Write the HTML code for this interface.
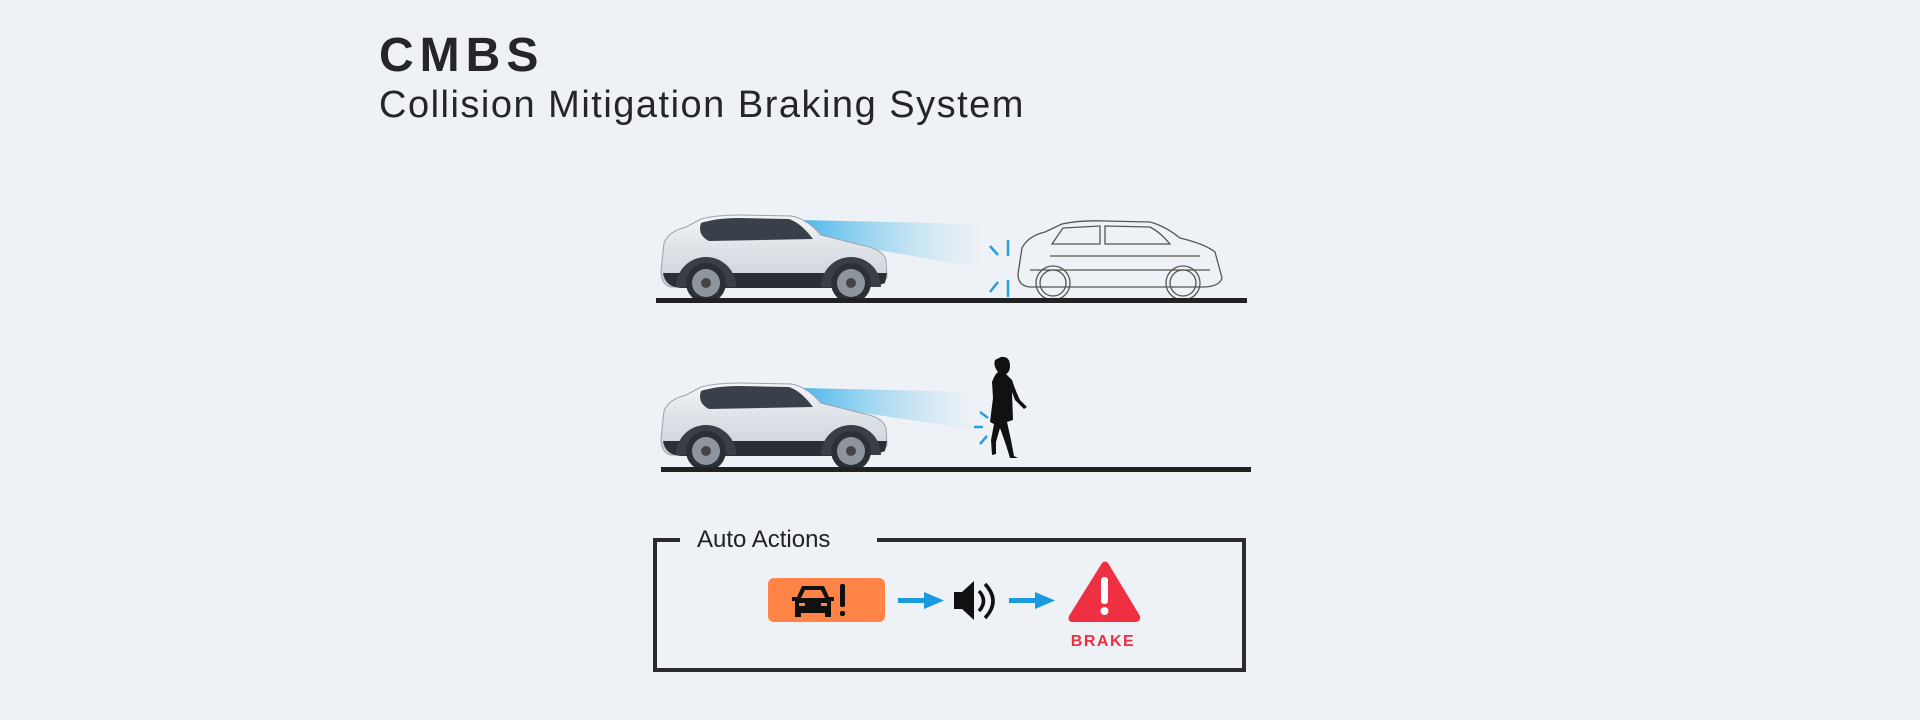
<!DOCTYPE html>
<html><head><meta charset="utf-8"><style>
html,body{margin:0;padding:0;background:#eef1f5;}
body{width:1920px;height:720px;position:relative;overflow:hidden;font-family:"Liberation Sans",sans-serif;color:#222;}
.t1{position:absolute;left:379px;top:28px;font-size:48px;font-weight:bold;letter-spacing:6px;color:#26262a;}
.t2{position:absolute;left:379px;top:84px;font-size:38px;letter-spacing:1.5px;color:#26262a;}
svg{position:absolute;left:0;top:0;}
</style></head><body>
<div class="t1">CMBS</div>
<div class="t2">Collision Mitigation Braking System</div>
<svg width="1920" height="720" viewBox="0 0 1920 720">
<defs>
<linearGradient id="beam" x1="0" x2="1" y1="0" y2="0">
<stop offset="0" stop-color="#3fb3ea" stop-opacity="0.95"/>
<stop offset="1" stop-color="#9fd8f3" stop-opacity="0"/>
</linearGradient>
<linearGradient id="body" x1="0" x2="0" y1="0" y2="1">
<stop offset="0" stop-color="#f2f4f7"/><stop offset="1" stop-color="#c9d0d8"/>
</linearGradient>
<g id="car">
<path d="M0,55 L3,28 Q8,16 25,12 L40,4 Q55,0 80,0 L130,1 Q145,3 160,20 Q180,25 200,30 Q222,34 225,45 L226,62 Q224,70 200,72 L10,72 Q0,70 0,55Z" fill="url(#body)" stroke="#9aa3ad" stroke-width="1"/>
<path d="M40,8 Q55,3 78,3 L128,4 Q140,8 152,24 L48,26 Q36,20 40,8Z" fill="#3a4049"/>
<path d="M2,58 L226,58 L224,68 Q210,74 180,73 L20,73 Q4,72 2,58Z" fill="#2a2e35"/>
<path d="M15,72 A30,30 0 0 1 75,72Z M160,72 A30,30 0 0 1 220,72Z" fill="#3a3f47"/>
<circle cx="45" cy="68" r="20" fill="#2b2f36"/><circle cx="45" cy="68" r="14" fill="#8e959e"/><circle cx="45" cy="68" r="5" fill="#444"/>
<circle cx="190" cy="68" r="20" fill="#2b2f36"/><circle cx="190" cy="68" r="14" fill="#8e959e"/><circle cx="190" cy="68" r="5" fill="#444"/>
</g>
</defs>
<polygon points="800,220 980,224 980,268 800,236" fill="url(#beam)"/>
<use href="#car" x="661" y="215"/>
<g stroke="#2a9fe0" stroke-width="2.5">
<line x1="1008" y1="240" x2="1008" y2="256"/><line x1="990" y1="246" x2="998" y2="255"/>
<line x1="990" y1="292" x2="998" y2="282"/><line x1="1008" y1="280" x2="1008" y2="297"/>
</g>
<g fill="none" stroke="#555" stroke-width="1.3">
<path d="M1018,274 L1022,248 Q1028,236 1045,232 L1062,224 Q1080,220 1105,221 L1150,222 Q1165,226 1180,238 Q1205,244 1215,252 L1222,278 Q1220,286 1205,287 L1030,287 Q1018,286 1018,274Z"/>
<path d="M1063,228 L1100,226 L1100,244 L1052,244Z M1105,226 L1150,227 Q1160,232 1170,244 L1105,244Z"/>
<circle cx="1053" cy="283" r="17"/><circle cx="1053" cy="283" r="13"/>
<circle cx="1183" cy="283" r="17"/><circle cx="1183" cy="283" r="13"/>
<line x1="1030" y1="270" x2="1210" y2="270"/>
<line x1="1050" y1="256" x2="1200" y2="256"/>
</g>
<rect x="656" y="298" width="591" height="5" fill="#222"/>
<polygon points="800,388 975,392 975,430 800,403" fill="url(#beam)"/>
<use href="#car" x="661" y="383"/>
<g stroke="#2a9fe0" stroke-width="2.5">
<line x1="980" y1="412" x2="988" y2="418"/><line x1="974" y1="427" x2="983" y2="427"/><line x1="980" y1="444" x2="987" y2="436"/>
</g>
<path d="M1001,357 Q1010,356 1010,366 Q1010,372 1006,374 L1012,380 Q1016,392 1020,400 L1027,407 L1024,409 L1015,400 L1012,392 L1013,420 L1007,422 L1011,440 L1014,456 L1018,458 L1010,458 L1006,445 L1000,428 L996,442 L996,454 L992,455 L991,440 L994,424 L990,422 L993,398 L992,382 Q995,374 998,372 Q993,366 995,360Z" fill="#111"/>
<rect x="661" y="467" width="590" height="5" fill="#222"/>
<path d="M680,540 L655,540 L655,670 L1244,670 L1244,540 L877,540" fill="none" stroke="#2b2b2f" stroke-width="4"/>
<text x="697" y="547" font-size="24" font-family="Liberation Sans,sans-serif" fill="#222">Auto Actions</text>
<rect x="768" y="578" width="117" height="44" rx="6" fill="#ff8445"/>
<g fill="#111">
<path d="M802,586 L824,586 L829,597 L834,597 L834,601 L831,601 L831,617 L825,617 L825,613 L801,613 L801,617 L795,617 L795,601 L792,601 L792,597 L797,597Z"/>
<rect x="840" y="584" width="5" height="23" rx="2"/><rect x="840" y="611" width="5" height="5" rx="2"/>
</g>
<path d="M805,590 L821,590 L825,598 L801,598Z" fill="#ff8445"/>
<rect x="799" y="603" width="6" height="3" fill="#ff8445"/><rect x="821" y="603" width="6" height="3" fill="#ff8445"/>
<g fill="#1a9be0">
<rect x="898" y="598" width="28" height="5"/><polygon points="924,592 944,600.5 924,609"/>
<rect x="1009" y="598" width="28" height="5"/><polygon points="1035,592 1055,600.5 1035,609"/>
</g>
<path d="M954,592 L962,592 L974,581 L974,620 L962,609 L954,609Z" fill="#111"/>
<path d="M979,591 Q988,601 979,611" fill="none" stroke="#111" stroke-width="3.5"/>
<path d="M985,584 Q1001,601 985,618" fill="none" stroke="#111" stroke-width="3.5"/>
<path d="M1102,563 Q1105,560 1108,563 L1140,616 Q1141,622 1135,622 L1073,622 Q1067,622 1069,616Z" fill="#ef2f42"/>
<rect x="1101" y="577" width="7" height="27" rx="3" fill="#fff"/><circle cx="1104.5" cy="611" r="4" fill="#fff"/>
<text x="1103" y="646" font-size="16" font-weight="bold" text-anchor="middle" font-family="Liberation Sans,sans-serif" fill="#ef2f42" letter-spacing="1.5">BRAKE</text>
</svg>
</body></html>
